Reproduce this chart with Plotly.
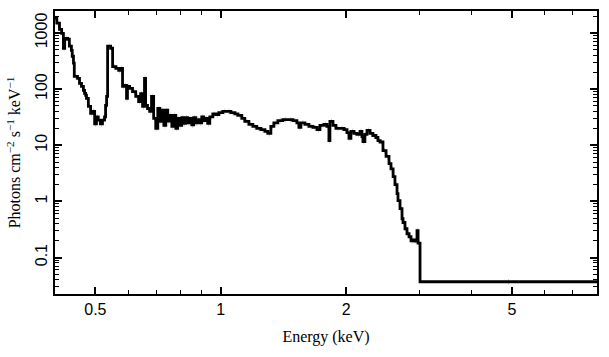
import math
import plotly.graph_objects as go

# Bin left edges (keV); the last entry is the right edge of the final bin
bin_edges_kev = [
    0.400, 0.404, 0.410, 0.415, 0.419, 0.422, 0.429, 0.433, 0.438, 0.440,
    0.443, 0.445, 0.453, 0.458, 0.463, 0.468, 0.471, 0.474, 0.476, 0.481,
    0.487, 0.492, 0.498, 0.503, 0.508, 0.514, 0.520, 0.526, 0.529, 0.532,
    0.535, 0.544, 0.550, 0.560, 0.569, 0.575, 0.581, 0.588, 0.594, 0.597,
    0.604, 0.614, 0.625, 0.635, 0.642, 0.649, 0.656, 0.660, 0.667, 0.675,
    0.682, 0.690, 0.698, 0.706, 0.714, 0.722, 0.730, 0.738, 0.746, 0.754,
    0.763, 0.771, 0.780, 0.788, 0.797, 0.806, 0.815, 0.824, 0.833, 0.842,
    0.852, 0.861, 0.871, 0.880, 0.890, 0.900, 0.910, 0.920, 0.930, 0.941,
    0.957, 0.973, 0.989, 1.011, 1.034, 1.057, 1.081, 1.099, 1.123, 1.142,
    1.168, 1.194, 1.220, 1.248, 1.276, 1.297, 1.319, 1.341, 1.371, 1.409,
    1.449, 1.490, 1.523, 1.540, 1.557, 1.592, 1.628, 1.665, 1.702, 1.730,
    1.769, 1.798, 1.818, 1.828, 1.859, 1.890, 1.932, 1.976, 2.009, 2.031,
    2.053, 2.088, 2.123, 2.159, 2.182, 2.194, 2.218, 2.244, 2.282, 2.318,
    2.357, 2.384, 2.412, 2.451, 2.493, 2.534, 2.562, 2.592, 2.619, 2.649,
    2.663, 2.693, 2.723, 2.738, 2.768, 2.799, 2.831, 2.862, 2.894, 2.926,
    2.958, 2.976, 3.008, 8.000,
]

# Unfolded flux per bin (photons cm^-2 s^-1 keV^-1)
flux = [
    1830, 1490, 1160, 980, 533, 800, 770, 580, 490, 384,
    290, 168, 155, 126, 112, 95, 84, 77, 68, 49,
    37, 40, 24, 32, 28, 24, 28, 32, 51, 74,
    580, 533, 250, 234, 215, 234, 112, 116, 68, 112,
    103, 90, 74, 60, 83, 49, 155, 51, 45, 40,
    74, 30, 20, 45, 26.5, 42, 22.5, 42, 27, 34,
    21.6, 34, 20, 30, 22.5, 31, 24.4, 31, 25, 30,
    23, 31, 25, 28.5, 25, 32, 27.5, 30, 24.4, 32,
    36, 35, 38, 40, 40, 38, 36, 34, 30, 26.5,
    23.5, 21.6, 19.9, 19, 17.6, 16.2, 21.6, 25, 27.5, 28.6,
    28.6, 27.5, 25, 20.7, 25, 23.5, 21.6, 20.7, 19, 22.5,
    23.5, 21.6, 12.1, 26.5, 22.5, 19.9, 19.9, 19, 16.8, 13.2,
    17.6, 16.2, 15.6, 17.6, 14.3, 11.6, 15.6, 18.3, 16.2, 14.9,
    13.7, 12.1, 11.4, 8.0, 6.3, 4.7, 3.8, 2.76, 1.98, 1.37,
    1.03, 0.74, 0.49, 0.42, 0.325, 0.265, 0.234, 0.198, 0.205, 0.195,
    0.30, 0.18, 0.037,
]

x_tick_vals = [0.5, 1, 2, 5]
x_tick_text = ["0.5", "1", "2", "5"]
x_minor_vals = [0.4, 0.6, 0.7, 0.8, 0.9, 3, 4, 6, 7, 8]
y_tick_vals = [0.1, 1, 10, 100, 1000]
y_tick_text = ["0.1", "1", "10", "100", "1000"]
y_minor_vals = [m * 10.0 ** e for e in range(-2, 4) for m in range(2, 10)]

x_title = "Energy (keV)"
y_title = "Photons cm<sup>\u22122</sup> s<sup>\u22121</sup> keV<sup>\u22121</sup>"

# step line: each value repeated to the bin's right edge
step_y = flux + [flux[-1]]
centers = [math.sqrt(bin_edges_kev[i] * bin_edges_kev[i + 1]) for i in range(len(flux))]

fig = go.Figure()
fig.add_trace(go.Scatter(
    x=centers, y=flux, mode="markers",
    marker=dict(size=0.1, color="rgba(0,0,0,0)"),
    error_y=dict(type="percent", value=12, color="#cfcfcf", thickness=1, width=0),
    hoverinfo="skip", showlegend=False,
))
fig.add_trace(go.Scatter(
    x=bin_edges_kev, y=step_y, mode="lines",
    line=dict(shape="hv", color="black", width=2.8),
    showlegend=False,
))

tick_font = dict(family="Liberation Sans, Arial, sans-serif", size=16, color="black")
title_font = dict(family="Liberation Serif, Times New Roman, serif", size=16, color="black")

fig.update_layout(
    width=609, height=357,
    margin=dict(l=55, r=12, t=11, b=63),
    paper_bgcolor="white", plot_bgcolor="white",
    xaxis=dict(
        type="log", range=[math.log10(0.4), math.log10(8.0)],
        automargin=False,
        tickmode="array", tickvals=x_tick_vals, ticktext=x_tick_text,
        ticks="inside", ticklen=7, tickwidth=1.5, tickcolor="black",
        minor=dict(tickmode="array", tickvals=x_minor_vals, ticks="inside",
                   ticklen=4, tickwidth=1.2, tickcolor="black", showgrid=False),
        showline=True, linecolor="black", linewidth=1.5, mirror="allticks",
        showgrid=False, zeroline=False, tickfont=tick_font,
        title=dict(text=x_title, font=title_font, standoff=14),
    ),
    yaxis=dict(
        type="log", range=[-1.65, 3.39],
        automargin=False,
        tickmode="array", tickvals=y_tick_vals, ticktext=y_tick_text,
        tickangle=-90,
        ticks="inside", ticklen=7, tickwidth=1.5, tickcolor="black",
        minor=dict(tickmode="array", tickvals=y_minor_vals, ticks="inside",
                   ticklen=4, tickwidth=1.2, tickcolor="black", showgrid=False),
        showline=True, linecolor="black", linewidth=1.5, mirror="allticks",
        showgrid=False, zeroline=False, tickfont=tick_font,
        title=dict(text=y_title, font=title_font, standoff=8),
    ),
)

fig.write_html(
    "out.html",
    config={"displayModeBar": False},
    post_script="document.body.style.margin='0';document.body.style.padding='0';",
)
